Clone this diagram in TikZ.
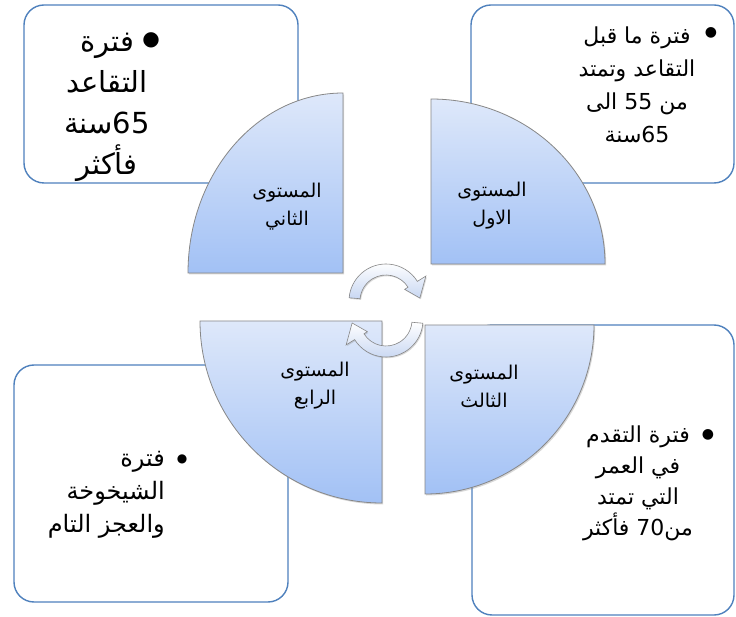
\documentclass[tikz,border=0pt]{standalone}
\usepackage{fontspec}
\newfontfamily\arabicfont[Script=Arabic]{DejaVu Sans}
\newfontfamily\symfont{DejaVu Sans}
\TeXXeTstate=1
\usetikzlibrary{shadows}
\definecolor{boxblue}{RGB}{79,129,189}
\definecolor{qtop}{RGB}{222,232,250}
\definecolor{qbot}{RGB}{162,193,245}
\definecolor{qline}{RGB}{135,135,135}
\definecolor{cycbot}{RGB}{200,215,242}
\tikzset{
  panel/.style={draw=boxblue, line width=1.4pt, rounded corners=20pt, fill=white, inner sep=0pt},
  quad/.style={draw=qline, line width=0.8pt, top color=qtop, bottom color=qbot,
    drop shadow={shadow xshift=1.2pt, shadow yshift=-1.5pt, opacity=0.3}},
  cyc/.style={draw=qline, line width=0.6pt, top color=white, bottom color=cycbot,
    drop shadow={shadow xshift=1pt, shadow yshift=-1.2pt, opacity=0.3}},
  qlabel/.style={font=\arabicfont\fontsize{19}{28}\selectfont, align=center, inner sep=0pt},
  btext/.style={align=center, inner sep=0pt},
  bul/.style={inner sep=0pt, font=\symfont},
}
\begin{document}
\begin{tikzpicture}[x=1pt, y=1pt]
\useasboundingbox[fill=white] (0,0) rectangle (736,-617);

% panels
\node[panel, minimum width=274pt, minimum height=178pt] (p2) at (161,-94) {};
\node[panel, minimum width=263pt, minimum height=178pt] (p1) at (602.5,-94) {};
\node[panel, minimum width=274pt, minimum height=237pt] (p4) at (151,-483.5) {};
\node[panel, minimum width=262pt, minimum height=290pt] (p3) at (603,-470) {};

% quadrants
\path[quad] (343,-273) -- (188,-273) arc[start angle=180, end angle=90, x radius=155, y radius=180] -- cycle;
\path[quad] (431,-264) -- (431,-99) arc[start angle=90, end angle=0, x radius=174, y radius=165] -- cycle;
\path[quad] (382,-321) -- (382,-503) arc[start angle=270, end angle=180, radius=182] -- cycle;
\path[quad] (425,-325) -- (594,-325) arc[start angle=0, end angle=-90, radius=169] -- cycle;

% quadrant labels
\node[qlabel] (q2) at (287,-207) {\beginR المستوى\endR\\\beginR الثاني\endR};
\node[qlabel] (q1) at (492,-206) {\beginR المستوى\endR\\\beginR الاول\endR};
\node[qlabel] (q4) at (315,-386) {\beginR المستوى\endR\\\beginR الرابع\endR};
\node[qlabel] (q3) at (484,-386) {\beginR المستوى\endR\\\beginR الثالث\endR};

% cycle arrows
\begin{scope}[shift={(386,-301)}]
\path[cyc] (175:37) arc[start angle=175, end angle=32, radius=37] -- (32:47) -- (5:34) -- (32:22) -- (32:26) arc[start angle=32, end angle=175, radius=26] -- cycle;
\end{scope}
\begin{scope}[shift={(386,-320)}]
\path[cyc] (-5:37) arc[start angle=-5, end angle=-148, radius=37] -- (212:47) -- (185:34) -- (212:22) -- (212:26) arc[start angle=-148, end angle=-5, radius=26] -- cycle;
\end{scope}

% panel texts
\node[btext, font=\arabicfont\fontsize{29}{41}\selectfont] (t2) at (107,-107)
  {\beginR فترة\endR\\\beginR التقاعد\endR\\\beginR 65\kern0pt سنة\endR\\\beginR فأكثر\endR};
\node[bul, font=\symfont\fontsize{20}{20}\selectfont] (b2) at (151,-40) {●};

\node[btext, font=\arabicfont\fontsize{22}{33}\selectfont] (t1) at (637,-85)
  {\beginR فترة ما قبل\endR\\\beginR التقاعد وتمتد\endR\\\beginR من 55 الى\endR\\\beginR 65\kern0pt سنة\endR};
\node[bul, font=\symfont\fontsize{14}{14}\selectfont] (b1) at (711,-33) {●};

\node[btext, align=right, anchor=east, font=\arabicfont\fontsize{24}{33}\selectfont] (t4) at (165,-495)
  {\beginR فترة\endR\\\beginR الشيخوخة\endR\\\beginR والعجز التام\endR};
\node[bul, font=\symfont\fontsize{12}{12}\selectfont] (b4) at (182,-459) {●};

\node[btext, font=\arabicfont\fontsize{22}{31}\selectfont] (t3) at (638,-483)
  {\beginR فترة التقدم\endR\\\beginR في العمر\endR\\\beginR التي تمتد\endR\\\beginR من\kern0pt 70 فأكثر\endR};
\node[bul, font=\symfont\fontsize{14}{14}\selectfont] (b3) at (708,-435) {●};
\end{tikzpicture}
\end{document}
